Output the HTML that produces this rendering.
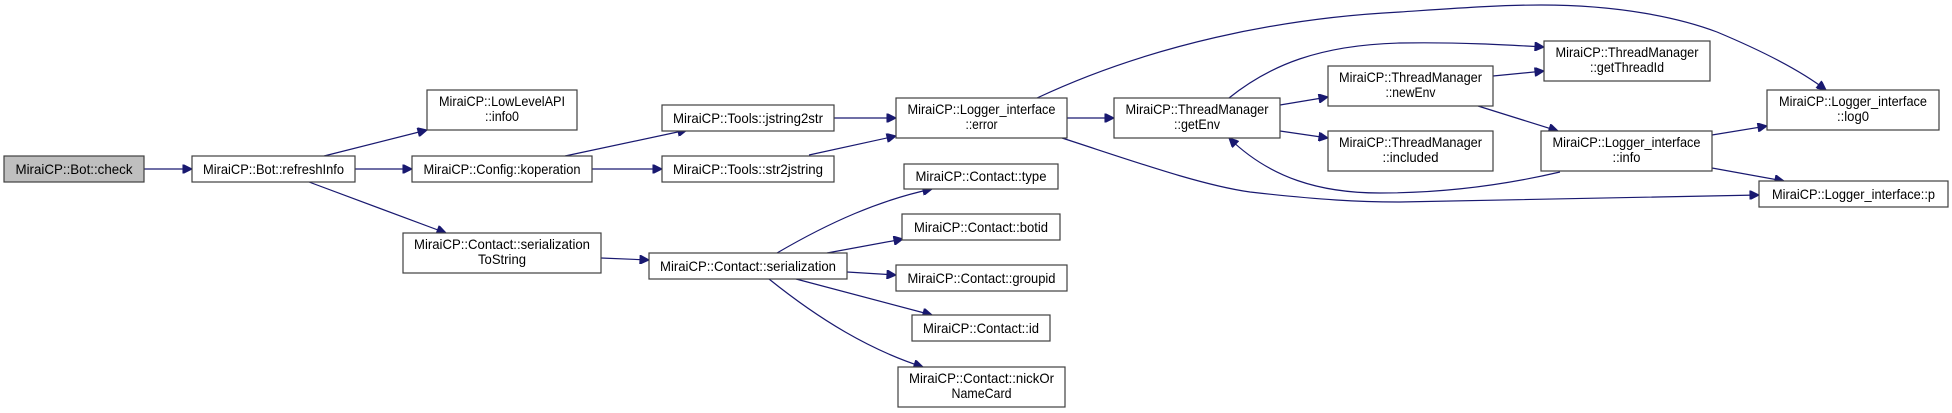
<!DOCTYPE html>
<html><head><meta charset="utf-8"><style>
html,body{margin:0;padding:0;background:#fff;}
svg{display:block;}
text{font-family:"Liberation Sans",Arial,sans-serif;font-size:14px;fill:#000;}
rect{fill:#fff;stroke:#404040;stroke-width:1.2;}
path{fill:none;stroke:#191970;stroke-width:1.2;}
</style></head><body>
<svg width="1952" height="413" viewBox="0 0 1952 413" xmlns="http://www.w3.org/2000/svg">
<defs>
<marker id="a" viewBox="0 0 10 10" refX="10" refY="5" markerWidth="12" markerHeight="9" markerUnits="userSpaceOnUse" orient="auto">
<path d="M0,0 L10,5 L0,10 z" style="fill:#191970;stroke:#191970"/>
</marker>
</defs>
<g marker-end="url(#a)">
<path d="M144,169 L192,169"/>
<path d="M324,156 L427,130"/>
<path d="M355,169 L412,169"/>
<path d="M309,182 L446,233"/>
<path d="M565,156 L687,130"/>
<path d="M592,169 L662,169"/>
<path d="M601,258 L649,260"/>
<path d="M834,118 L896,118"/>
<path d="M809,155 L896,136"/>
<path d="M1067,118 L1114,118"/>
<path d="M1037,98 C1150,45 1280,18 1400,12 C1460,8 1500,5 1541,5 C1620,5 1680,18 1717,32 C1760,50 1800,70 1826,90"/>
<path d="M1062,138 C1130,160 1200,185 1250,192 C1320,200 1360,202 1400,202 C1550,200 1680,196 1759,195"/>
<path d="M1229,98 C1270,65 1320,45 1400,43 C1460,42 1510,45 1544,47"/>
<path d="M1280,105 L1328,97"/>
<path d="M1280,131 L1328,138"/>
<path d="M1493,76 L1544,71"/>
<path d="M1478,106 L1558,131"/>
<path d="M1560,172 C1500,186 1440,193 1380,193 C1320,193 1270,178 1229,138"/>
<path d="M1712,135 L1767,126"/>
<path d="M1712,168 L1784,181"/>
<path d="M777,253 C830,222 880,200 932,189"/>
<path d="M827,253 L903,239"/>
<path d="M847,272 L896,275"/>
<path d="M796,279 L932,315"/>
<path d="M769,279 C820,320 870,350 923,367"/>
</g>

<rect x="4" y="156" width="140" height="26" style="fill:#bfbfbf"/>
<text x="74" y="174" text-anchor="middle" textLength="117" lengthAdjust="spacingAndGlyphs">MiraiCP::Bot::check</text>

<rect x="192" y="156" width="163" height="26"/>
<text x="273.5" y="174" text-anchor="middle" textLength="141" lengthAdjust="spacingAndGlyphs">MiraiCP::Bot::refreshInfo</text>

<rect x="427" y="90" width="150" height="40"/>
<text x="502" y="106" text-anchor="middle" textLength="126" lengthAdjust="spacingAndGlyphs">MiraiCP::LowLevelAPI</text>
<text x="502" y="121" text-anchor="middle" textLength="34" lengthAdjust="spacingAndGlyphs">::info0</text>

<rect x="412" y="156" width="180" height="26"/>
<text x="502" y="174" text-anchor="middle" textLength="157" lengthAdjust="spacingAndGlyphs">MiraiCP::Config::koperation</text>

<rect x="403" y="233" width="198" height="40"/>
<text x="502" y="249" text-anchor="middle" textLength="176" lengthAdjust="spacingAndGlyphs">MiraiCP::Contact::serialization</text>
<text x="502" y="264" text-anchor="middle" textLength="48" lengthAdjust="spacingAndGlyphs">ToString</text>

<rect x="662" y="105" width="172" height="26"/>
<text x="748" y="123" text-anchor="middle" textLength="150" lengthAdjust="spacingAndGlyphs">MiraiCP::Tools::jstring2str</text>

<rect x="662" y="156" width="172" height="26"/>
<text x="748" y="174" text-anchor="middle" textLength="150" lengthAdjust="spacingAndGlyphs">MiraiCP::Tools::str2jstring</text>

<rect x="649" y="253" width="198" height="26"/>
<text x="748" y="271" text-anchor="middle" textLength="176" lengthAdjust="spacingAndGlyphs">MiraiCP::Contact::serialization</text>

<rect x="896" y="98" width="171" height="40"/>
<text x="981.5" y="114" text-anchor="middle" textLength="148" lengthAdjust="spacingAndGlyphs">MiraiCP::Logger_interface</text>
<text x="981.5" y="129" text-anchor="middle" textLength="32" lengthAdjust="spacingAndGlyphs">::error</text>

<rect x="1114" y="98" width="166" height="40"/>
<text x="1197" y="114" text-anchor="middle" textLength="143" lengthAdjust="spacingAndGlyphs">MiraiCP::ThreadManager</text>
<text x="1197" y="129" text-anchor="middle" textLength="46" lengthAdjust="spacingAndGlyphs">::getEnv</text>

<rect x="1328" y="66" width="165" height="40"/>
<text x="1410.5" y="82" text-anchor="middle" textLength="143" lengthAdjust="spacingAndGlyphs">MiraiCP::ThreadManager</text>
<text x="1410.5" y="97" text-anchor="middle" textLength="50" lengthAdjust="spacingAndGlyphs">::newEnv</text>

<rect x="1328" y="131" width="165" height="40"/>
<text x="1410.5" y="147" text-anchor="middle" textLength="143" lengthAdjust="spacingAndGlyphs">MiraiCP::ThreadManager</text>
<text x="1410.5" y="162" text-anchor="middle" textLength="56" lengthAdjust="spacingAndGlyphs">::included</text>

<rect x="1544" y="41" width="166" height="40"/>
<text x="1627" y="57" text-anchor="middle" textLength="143" lengthAdjust="spacingAndGlyphs">MiraiCP::ThreadManager</text>
<text x="1627" y="72" text-anchor="middle" textLength="74" lengthAdjust="spacingAndGlyphs">::getThreadId</text>

<rect x="1541" y="131" width="171" height="40"/>
<text x="1626.5" y="147" text-anchor="middle" textLength="148" lengthAdjust="spacingAndGlyphs">MiraiCP::Logger_interface</text>
<text x="1626.5" y="162" text-anchor="middle" textLength="28" lengthAdjust="spacingAndGlyphs">::info</text>

<rect x="1767" y="90" width="172" height="40"/>
<text x="1853" y="106" text-anchor="middle" textLength="148" lengthAdjust="spacingAndGlyphs">MiraiCP::Logger_interface</text>
<text x="1853" y="121" text-anchor="middle" textLength="32" lengthAdjust="spacingAndGlyphs">::log0</text>

<rect x="1759" y="181" width="189" height="26"/>
<text x="1853.5" y="199" text-anchor="middle" textLength="163" lengthAdjust="spacingAndGlyphs">MiraiCP::Logger_interface::p</text>

<rect x="904" y="164" width="154" height="25"/>
<text x="981" y="181" text-anchor="middle" textLength="131" lengthAdjust="spacingAndGlyphs">MiraiCP::Contact::type</text>

<rect x="902" y="214" width="158" height="26"/>
<text x="981" y="232" text-anchor="middle" textLength="134" lengthAdjust="spacingAndGlyphs">MiraiCP::Contact::botid</text>

<rect x="896" y="265" width="171" height="26"/>
<text x="981.5" y="283" text-anchor="middle" textLength="148" lengthAdjust="spacingAndGlyphs">MiraiCP::Contact::groupid</text>

<rect x="912" y="315" width="138" height="26"/>
<text x="981" y="333" text-anchor="middle" textLength="116" lengthAdjust="spacingAndGlyphs">MiraiCP::Contact::id</text>

<rect x="898" y="367" width="167" height="40"/>
<text x="981.5" y="383" text-anchor="middle" textLength="145" lengthAdjust="spacingAndGlyphs">MiraiCP::Contact::nickOr</text>
<text x="981.5" y="398" text-anchor="middle" textLength="60" lengthAdjust="spacingAndGlyphs">NameCard</text>
</svg>
</body></html>
